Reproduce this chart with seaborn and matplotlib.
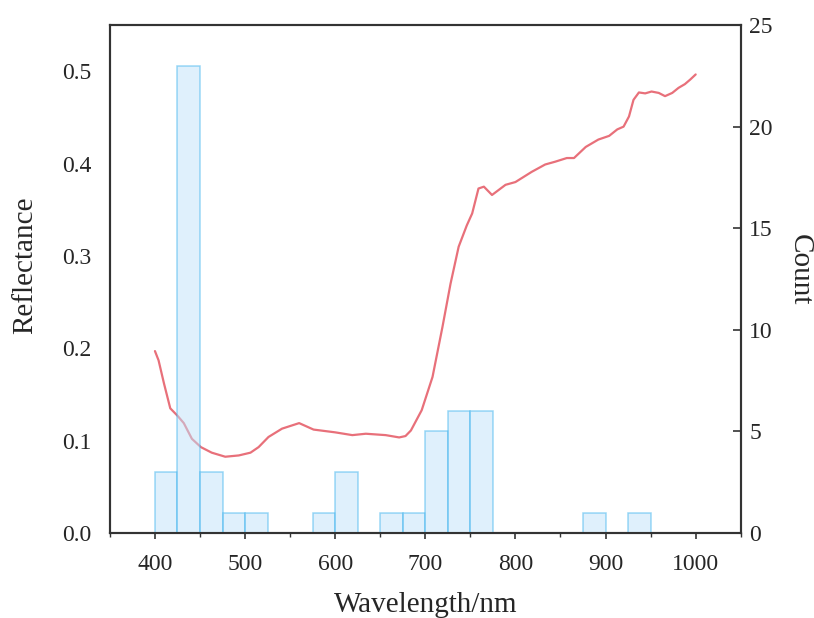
import numpy as np
import pandas as pd
import matplotlib
matplotlib.use("Agg")
import matplotlib.pyplot as plt
from matplotlib.ticker import MultipleLocator
import seaborn as sns

# Mean reflectance spectrum
wavelength = [400, 404, 410, 417, 425, 432, 441, 451, 463, 478, 493, 506, 515,
              526, 541, 560, 576, 600, 619, 634, 656, 671, 678, 684, 696, 708,
              719, 728, 737, 746, 752, 759, 765, 774, 789, 800, 818, 833, 844,
              857, 865, 878, 892, 904, 913, 920, 926, 931, 937, 944, 951, 959,
              966, 974, 981, 988, 994, 1000]
reflectance = [0.197, 0.187, 0.162, 0.135, 0.127, 0.119, 0.102, 0.093, 0.087,
               0.0826, 0.084, 0.087, 0.093, 0.104, 0.113, 0.119, 0.112, 0.109,
               0.106, 0.1075, 0.106, 0.1035, 0.105, 0.111, 0.133, 0.169, 0.223,
               0.270, 0.310, 0.333, 0.346, 0.373, 0.375, 0.366, 0.377, 0.380,
               0.391, 0.399, 0.402, 0.406, 0.406, 0.418, 0.426, 0.430, 0.437,
               0.440, 0.451, 0.469, 0.477, 0.476, 0.478, 0.4765, 0.473, 0.4765,
               0.482, 0.486, 0.491, 0.4965]

# Number of selected bands per 25 nm interval (bin left edges)
bin_start = [400, 425, 450, 475, 500, 575, 600, 650, 675, 700, 725, 750, 875, 925]
band_count = [3, 23, 3, 1, 1, 1, 3, 1, 1, 5, 6, 6, 1, 1]

spec = pd.DataFrame({"Wavelength": wavelength, "Reflectance": reflectance})
bands = pd.DataFrame({"center": np.array(bin_start, dtype=float) + 12.5,
                      "n": np.array(band_count, dtype=float)})

sns.set_style("ticks")
plt.rcParams["font.family"] = ["Liberation Serif", "DejaVu Serif"]
plt.rcParams["axes.edgecolor"] = "#333333"

fig = plt.figure(figsize=(8.14, 6.18), dpi=100)
ax = fig.add_axes([0.135, 0.1375, 0.775, 0.822])

sns.lineplot(data=spec, x="Wavelength", y="Reflectance", ax=ax,
             color="#e8707a", linewidth=1.6)
ax.set_xlim(350, 1050)
ax.set_ylim(0, 0.55)
ax.set_yticks([0.0, 0.1, 0.2, 0.3, 0.4, 0.5])
ax.set_yticklabels(["0.0", "0.1", "0.2", "0.3", "0.4", "0.5"])
ax.set_xticks([400, 500, 600, 700, 800, 900, 1000])
ax.xaxis.set_minor_locator(MultipleLocator(50))
ax.tick_params(axis="y", which="both", length=0, pad=13, labelsize=17)
ax.tick_params(axis="x", which="major", direction="out", length=4, width=1.2,
               pad=11, labelsize=17, color="#333333")
ax.tick_params(axis="x", which="minor", direction="out", length=3, width=1.0,
               color="#333333")
ax.set_xlabel("Wavelength/nm", fontsize=21, labelpad=12)
ax.set_ylabel("Reflectance", fontsize=21, va="center")
ax.yaxis.set_label_coords(-0.135, 0.528)

ax2 = ax.twinx()
sns.histplot(x=bands["center"], weights=bands["n"],
             bins=list(range(400, 1001, 25)), ax=ax2,
             color="#c1e3fb", alpha=0.5, linewidth=1.1)
# semi-transparent outlines so shared edges read a little darker
for p in ax2.patches:
    p.set_edgecolor((0.23, 0.70, 0.93, 0.5))
ax2.set_ylim(0, 25)
ax2.set_yticks([0, 5, 10, 15, 20, 25])
ax2.tick_params(axis="y", direction="in", length=6, width=1.2, pad=6,
                labelsize=17, color="#333333")
ax2.set_ylabel("Count", fontsize=21, rotation=270, va="center")
ax2.yaxis.set_label_coords(1.093, 0.518)
ax2.set_xlabel("")

for a in (ax, ax2):
    for s in a.spines.values():
        s.set_linewidth(1.5)
        s.set_color("#333333")

fig.savefig("out.png", dpi=100)
